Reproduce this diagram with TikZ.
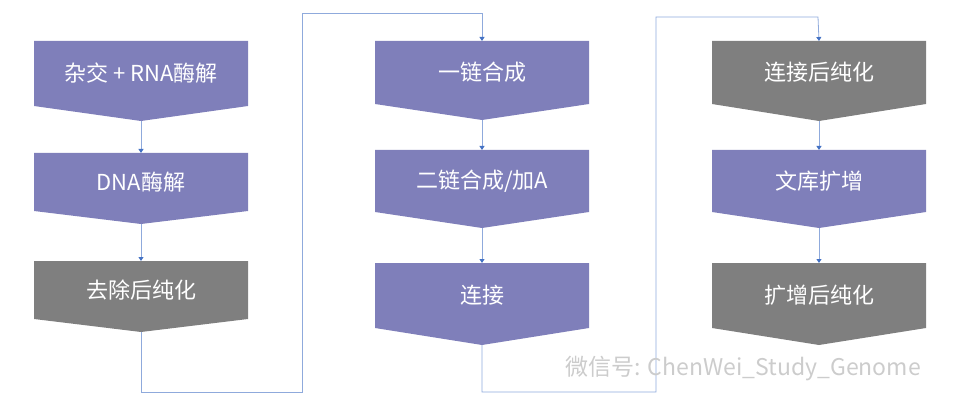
\documentclass[tikz,border=0pt]{standalone}
\usepackage{fontspec}
\setmainfont{Noto Sans CJK SC}
\usepackage{tikz}
\usetikzlibrary{arrows.meta}
\definecolor{stepblue}{HTML}{7F7FBA}
\definecolor{stepgray}{HTML}{7F7F7F}
\definecolor{linkblue}{HTML}{8FAADC}
\definecolor{tipblue}{HTML}{4472C4}
% chevron box: name, left x, top y, body bottom y, tip y, colour, text
\newcommand{\stepbox}[7]{%
  \fill [#6] (#2,#3) -- (#2+214,#3) -- (#2+214,#4) -- (#2+107,#5) -- (#2,#4) -- cycle;
  \node [inner sep=0pt, text=white, font=\fontsize{22}{24}\selectfont] (#1) at (#2+107,#3/2+#4/2) {#7};
  \coordinate (#1top) at (#2+107,#3);
  \coordinate (#1tip) at (#2+107,#5);}
\begin{document}
\begin{tikzpicture}[x=1pt,y=-1pt]
\tikzset{link/.style={draw=linkblue, line width=0.8pt},
         flow/.style={link, -{Triangle[length=4pt,width=5pt,fill=tipblue,color=tipblue]}}}
\useasboundingbox (0,0) rectangle (960,414);
\stepbox{hyb}{34}{41}{106}{121}{stepblue}{杂交 + RNA酶解}
\stepbox{dna}{34}{153}{211}{224}{stepblue}{DNA酶解}
\stepbox{pur}{34}{261}{319}{332}{stepgray}{去除后纯化}
\stepbox{fst}{375}{41}{104}{120}{stepblue}{一链合成}
\stepbox{snd}{375}{150}{212}{228}{stepblue}{二链合成/加A}
\stepbox{lig}{375}{263}{328}{345}{stepblue}{连接}
\stepbox{lpu}{712}{41}{104}{121}{stepgray}{连接后纯化}
\stepbox{amp}{712}{150}{212}{228}{stepblue}{文库扩增}
\stepbox{apu}{712}{263}{328}{345}{stepgray}{扩增后纯化}
\draw [flow] (hybtip) -- (dnatop);
\draw [flow] (dnatip) -- (purtop);
\draw [flow] (fsttip) -- (sndtop);
\draw [flow] (sndtip) -- (ligtop);
\draw [flow] (lputip) -- (amptop);
\draw [flow] (amptip) -- (aputop);
\draw [flow] (purtip) |- (302,392) |- (482,13) -- (fsttop);
\draw [flow] (ligtip) |- (656,392) |- (818,17) -- (lputop);
\node [text=black!20, font=\fontsize{23}{25}\selectfont, anchor=west] (mark) at (562,369) {微信号: ChenWei\_Study\_Genome};
\end{tikzpicture}
\end{document}
